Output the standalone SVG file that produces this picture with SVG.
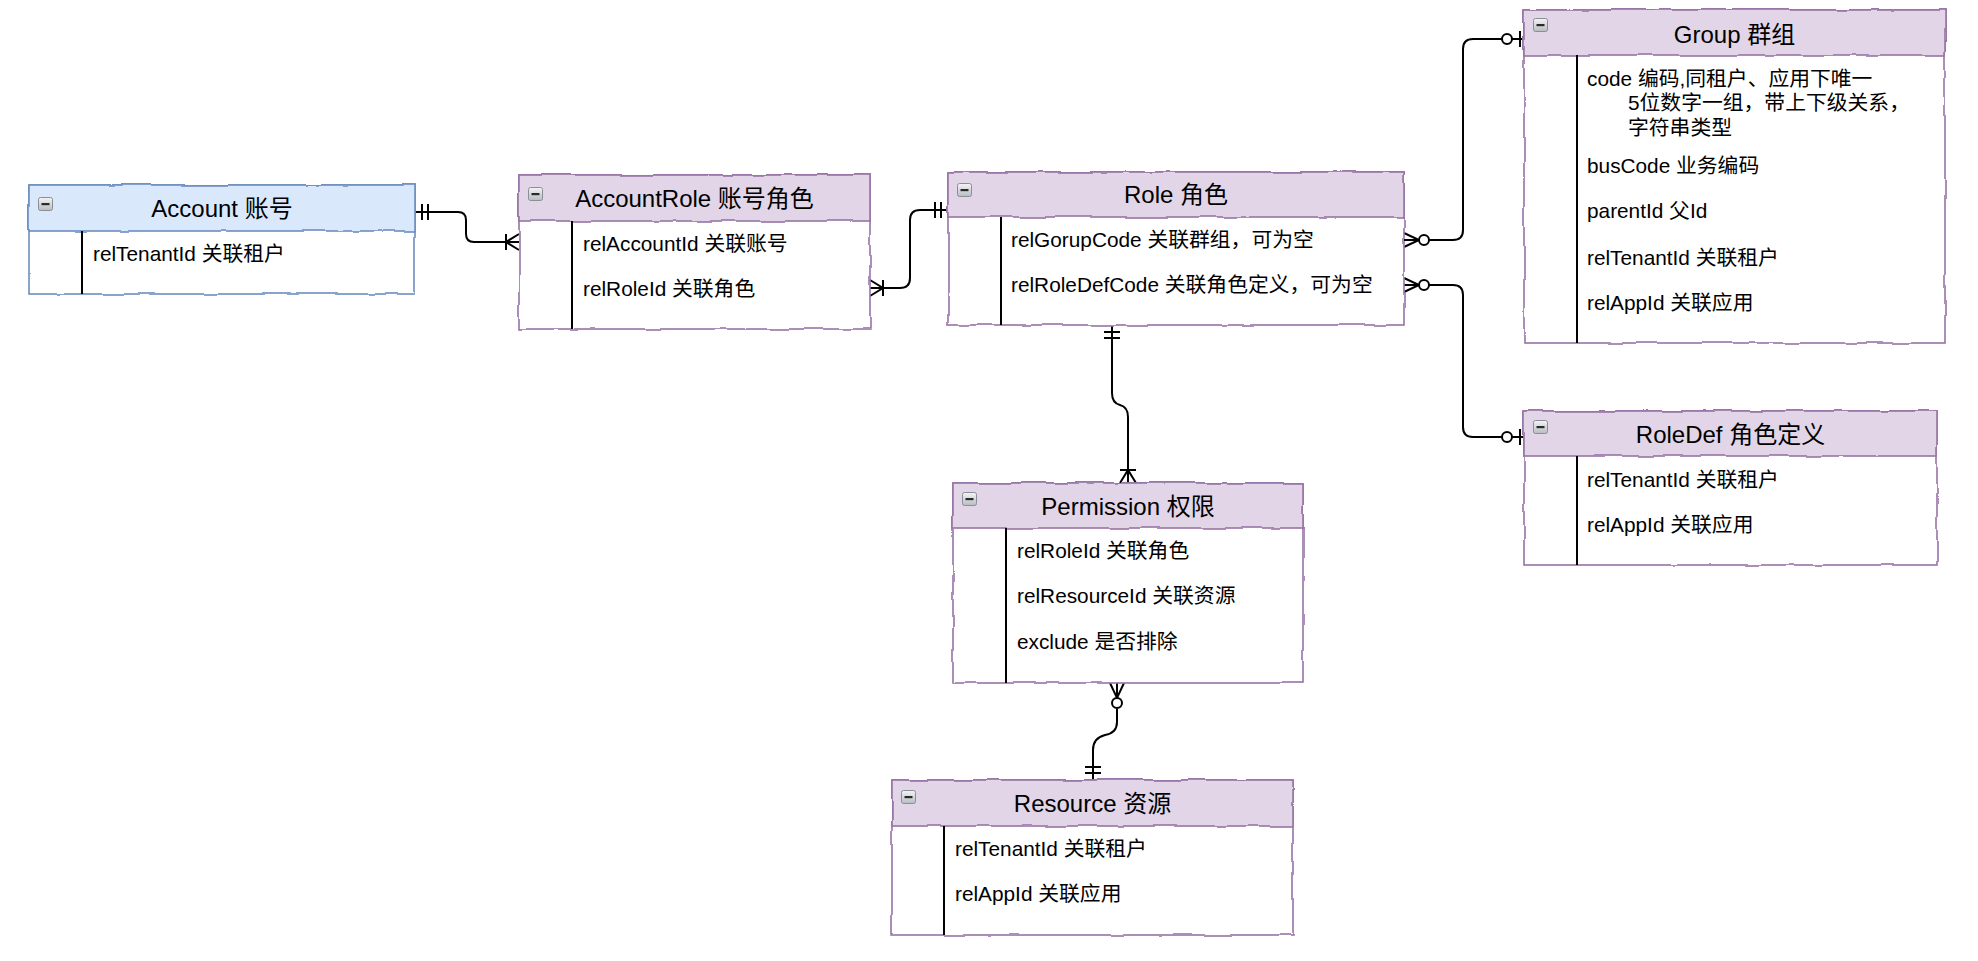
<svg xmlns="http://www.w3.org/2000/svg" width="1978" height="961" viewBox="0 0 1978 961">
  <style>
    .bg { fill: #ffffff; }
    .body { fill: #ffffff; stroke-width: 1.6; }
    .hdr-blue { fill: #dae8fc; stroke: #6c8ebf; stroke-width: 1.6; }
    .hdr-purple { fill: #e1d5e7; stroke: #9673a6; stroke-width: 1.6; }
    .blue { stroke: #6c8ebf; }
    .purple { stroke: #9673a6; }
    .shape { filter: url(#sketch); }
    .div { stroke: #000000; stroke-width: 2; }
    .title { font-family: "Liberation Sans", "Noto Sans CJK SC", sans-serif; font-size: 24px; fill: #000000; text-anchor: middle; }
    .attr { font-family: "Liberation Sans", "Noto Sans CJK SC", sans-serif; font-size: 20.8px; fill: #000000; }
    .edge { fill: none; stroke: #000000; stroke-width: 2; }
    .end { fill: none; stroke: #000000; stroke-width: 2; }
    .endc { fill: #ffffff; stroke: #000000; stroke-width: 2; }
  </style>
  <defs>
    <filter id="sketch" x="-5%" y="-5%" width="110%" height="110%">
      <feTurbulence type="fractalNoise" baseFrequency="0.03" numOctaves="2" seed="3" result="n"/>
      <feDisplacementMap in="SourceGraphic" in2="n" scale="4" xChannelSelector="R" yChannelSelector="G"/>
    </filter>
    <linearGradient id="gIcon" x1="0" y1="0" x2="0" y2="1">
      <stop offset="0" stop-color="#f4f4f4"/>
      <stop offset="1" stop-color="#b8bcc2"/>
    </linearGradient>
    <g id="collapse">
      <rect x="0.5" y="0.5" width="14" height="13" rx="2" fill="url(#gIcon)" stroke="#8a8f96" stroke-width="1"/>
      <rect x="3.5" y="6" width="8" height="2.2" fill="#2a2a2a"/>
    </g>
    <!-- end shapes: entity edge at x=0, connector leaves toward +x -->
    <g id="mandOne">
      <line class="end" x1="7" y1="-8" x2="7" y2="8"/>
      <line class="end" x1="13" y1="-8" x2="13" y2="8"/>
    </g>
    <g id="oneMany">
      <line class="end" x1="13" y1="-8" x2="13" y2="8"/>
      <path class="end" d="M0,-8 L13,0 L0,8 M0,0 H13"/>
    </g>
    <g id="zeroMany">
      <path class="end" d="M0,-7 L15,0 L0,7 M0,0 H15"/>
      <circle class="endc" cx="20" cy="0" r="5"/>
    </g>
    <g id="zeroOne">
      <line class="end" x1="4" y1="-8" x2="4" y2="8"/>
      <line class="end" x1="0" y1="0" x2="12" y2="0"/>
      <circle class="endc" cx="17" cy="0" r="5"/>
    </g>
  </defs>

  <rect class="bg" x="0" y="0" width="1978" height="961"/>

  <g id="connectors">
    <!-- Account - AccountRole -->
    <path class="edge" d="M415,212 H458 Q466,212 466,220 V234 Q466,242 474,242 H519"/>
    <use href="#mandOne" transform="translate(415,212)"/>
    <use href="#oneMany" transform="translate(519,242) rotate(180)"/>
    <!-- AccountRole - Role -->
    <path class="edge" d="M870,288 H900 Q910,288 910,278 V220 Q910,210 920,210 H948"/>
    <use href="#oneMany" transform="translate(870,288)"/>
    <use href="#mandOne" transform="translate(948,210) rotate(180)"/>
    <!-- Role - Group -->
    <path class="edge" d="M1429,240 H1453 Q1463,240 1463,230 V49 Q1463,39 1473,39 H1524"/>
    <use href="#zeroMany" transform="translate(1404,240)"/>
    <use href="#zeroOne" transform="translate(1524,39) rotate(180)"/>
    <!-- Role - RoleDef -->
    <path class="edge" d="M1429,285 H1453 Q1463,285 1463,295 V427 Q1463,437 1473,437 H1524"/>
    <use href="#zeroMany" transform="translate(1404,285)"/>
    <use href="#zeroOne" transform="translate(1524,437) rotate(180)"/>
    <!-- Role - Permission -->
    <path class="edge" d="M1112,325 V393 Q1112,403 1120,405 Q1128,407 1128,417 V483"/>
    <use href="#mandOne" transform="translate(1112,325) rotate(90)"/>
    <use href="#oneMany" transform="translate(1128,483) rotate(-90)"/>
    <!-- Permission - Resource -->
    <path class="edge" d="M1117,709 V722 Q1117,733 1105,735 Q1093,738 1093,750 V780"/>
    <use href="#zeroMany" transform="translate(1117,683) rotate(90)"/>
    <use href="#mandOne" transform="translate(1093,780) rotate(-90)"/>
  </g>

  <g id="node-account">
    <g class="shape">
      <rect class="body blue" x="29" y="185" width="386" height="109"/>
      <rect class="hdr-blue" x="29" y="185" width="386" height="46"/>
    </g>
    <line class="div" x1="82" y1="231" x2="82" y2="294"/>
    <use href="#collapse" x="38" y="197"/>
    <text class="title" x="222" y="217">Account 账号</text>
    <text class="attr" x="93" y="261">relTenantId 关联租户</text>
  </g>

  <g id="node-accountrole">
    <g class="shape">
      <rect class="body purple" x="519" y="175" width="351" height="154"/>
      <rect class="hdr-purple" x="519" y="175" width="351" height="46"/>
    </g>
    <line class="div" x1="572" y1="221" x2="572" y2="329"/>
    <use href="#collapse" x="528" y="187"/>
    <text class="title" x="694.5" y="207">AccountRole 账号角色</text>
    <text class="attr" x="583" y="251">relAccountId 关联账号</text>
    <text class="attr" x="583" y="296">relRoleId 关联角色</text>
  </g>

  <g id="node-role">
    <g class="shape">
      <rect class="body purple" x="948" y="172" width="456" height="153"/>
      <rect class="hdr-purple" x="948" y="172" width="456" height="45"/>
    </g>
    <line class="div" x1="1001" y1="217" x2="1001" y2="325"/>
    <use href="#collapse" x="957" y="183"/>
    <text class="title" x="1176" y="203">Role 角色</text>
    <text class="attr" x="1011" y="247">relGorupCode 关联群组，可为空</text>
    <text class="attr" x="1011" y="292">relRoleDefCode 关联角色定义，可为空</text>
  </g>

  <g id="node-group">
    <g class="shape">
      <rect class="body purple" x="1524" y="10" width="421" height="333"/>
      <rect class="hdr-purple" x="1524" y="10" width="421" height="45"/>
    </g>
    <line class="div" x1="1577" y1="55" x2="1577" y2="343"/>
    <use href="#collapse" x="1533" y="18"/>
    <text class="title" x="1734.5" y="43">Group 群组</text>
    <text class="attr" x="1587" y="86">code 编码,同租户、应用下唯一</text>
    <text class="attr" x="1628" y="110">5位数字一组，带上下级关系，</text>
    <text class="attr" x="1628" y="135">字符串类型</text>
    <text class="attr" x="1587" y="173">busCode 业务编码</text>
    <text class="attr" x="1587" y="218">parentId 父Id</text>
    <text class="attr" x="1587" y="265">relTenantId 关联租户</text>
    <text class="attr" x="1587" y="310">relAppId 关联应用</text>
  </g>

  <g id="node-roledef">
    <g class="shape">
      <rect class="body purple" x="1524" y="411" width="413" height="154"/>
      <rect class="hdr-purple" x="1524" y="411" width="413" height="45"/>
    </g>
    <line class="div" x1="1577" y1="456" x2="1577" y2="565"/>
    <use href="#collapse" x="1533" y="420"/>
    <text class="title" x="1730.5" y="443">RoleDef 角色定义</text>
    <text class="attr" x="1587" y="487">relTenantId 关联租户</text>
    <text class="attr" x="1587" y="532">relAppId 关联应用</text>
  </g>

  <g id="node-permission">
    <g class="shape">
      <rect class="body purple" x="953" y="483" width="350" height="200"/>
      <rect class="hdr-purple" x="953" y="483" width="350" height="45"/>
    </g>
    <line class="div" x1="1006" y1="528" x2="1006" y2="683"/>
    <use href="#collapse" x="962" y="492"/>
    <text class="title" x="1128" y="515">Permission 权限</text>
    <text class="attr" x="1017" y="558">relRoleId 关联角色</text>
    <text class="attr" x="1017" y="603">relResourceId 关联资源</text>
    <text class="attr" x="1017" y="649">exclude 是否排除</text>
  </g>

  <g id="node-resource">
    <g class="shape">
      <rect class="body purple" x="892" y="780" width="401" height="155"/>
      <rect class="hdr-purple" x="892" y="780" width="401" height="46"/>
    </g>
    <line class="div" x1="944" y1="826" x2="944" y2="935"/>
    <use href="#collapse" x="901" y="790"/>
    <text class="title" x="1092.5" y="812">Resource 资源</text>
    <text class="attr" x="955" y="856">relTenantId 关联租户</text>
    <text class="attr" x="955" y="901">relAppId 关联应用</text>
  </g>
</svg>
